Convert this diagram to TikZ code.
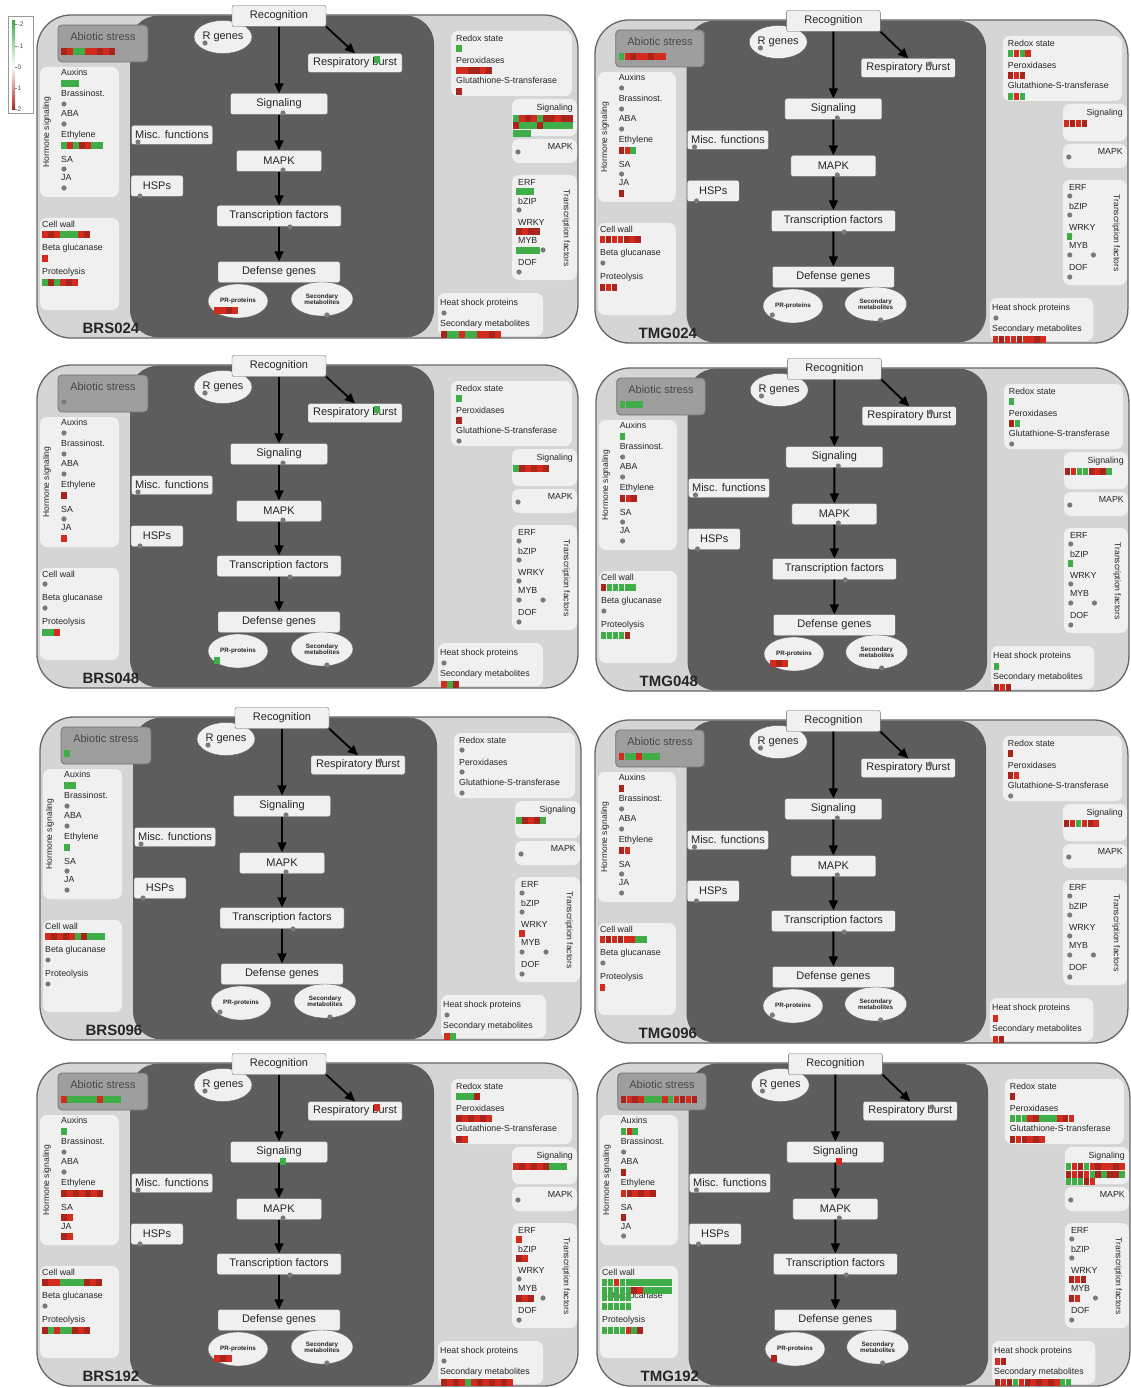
\documentclass[tikz,border=0pt]{standalone}
\usepackage{fontspec}
\setmainfont{Liberation Sans}
\usetikzlibrary{arrows.meta,shapes.geometric}

\definecolor{hmr}{HTML}{D42B1F}
\definecolor{hmd}{HTML}{A8241C}
\definecolor{hmg}{HTML}{3FAE49}
\definecolor{panelgray}{HTML}{D5D5D5}
\definecolor{coregray}{HTML}{5D5D5D}
\definecolor{boxwhite}{HTML}{F0F0F0}
\definecolor{dotgray}{HTML}{7A7A7A}

\newcommand{\fs}[1]{\fontsize{#1}{#1}\selectfont}

\tikzset{
  panelbg/.style={draw=black!60, fill=panelgray, line width=1.3pt, rounded corners=34},
  core/.style={fill=coregray, rounded corners=28},
  sidebox/.style={fill=boxwhite, rounded corners=7},
  abiobox/.style={draw=black!55, fill=black!38, rounded corners=4, line width=0.8pt},
  flowbox/.style={draw=black!60, fill=boxwhite, rounded corners=2, font=\fs{11},
    inner sep=0pt, minimum height=21, text=black!85},
  flowoval/.style={ellipse, draw=black!60, fill=boxwhite, inner sep=0pt, text=black!85},
  itemlbl/.style={anchor=west, font=\fs{8.8}, inner sep=0pt, text=black!85},
  flow/.style={line width=1.8pt, -{Triangle[length=10pt,width=9pt]}},
  tag/.style={font=\bfseries\fs{15}, text=black!85},
}

% one row of heatmap cells, top-left corner at (#1,#2)
\newcommand{\hm}[3]{%
  \foreach \cl [count=\ci from 0] in {#3}
    \fill[fill=hm\cl] ({#1+\ci*6},#2) rectangle +(5.6,7);%
}

% one MapMan panel: origin x, origin y, xscale, tag, heatmaps
\newcommand{\stresspanel}[5]{%
\begin{scope}[shift={(#1,#2)},xscale=#3]
  \draw[panelbg] (0,0) rectangle (541,323);
  \fill[core] (93,0.7) rectangle (397,322.3);
  % side boxes
  \fill[sidebox] (3,52) rectangle (82,182);
  \fill[sidebox] (3,203) rectangle (82,295);
  \fill[sidebox] (414,16) rectangle (535,81);
  \fill[sidebox] (475,84) rectangle (540,121);
  \fill[sidebox] (475,124) rectangle (540,148);
  \fill[sidebox] (475,160) rectangle (540,265);
  \fill[sidebox] (401,278) rectangle (506,321);
  \draw[abiobox] (21,10) rectangle (111,47);
  % empty bins
  \foreach \px/\py in {27/37,27/68,27/89,27/109,27/130,27/154,27/173,8/219,8/243,8/267,
      422/33,422/55,422/76,481/137,482/176,482/195,482/216,482/235,506/235,482/257,
      407/298,407/319}
    \fill[dotgray] (\px,\py) circle (2.6);
  % labels
  \node[font=\fs{11},text=black!72] (#4abio) at (66,22) {Abiotic stress};
  \node[font=\fs{8.5},rotate=90,text=black!85] (#4horm) at (10,117) {Hormone signaling};
  \foreach \ly/\lt [count=\k] in {57/Auxins,78/Brassinost.,98/ABA,120/Ethylene,144/SA,163/JA}
    \node[itemlbl] (#4h\k) at (24,\ly) {\lt};
  \foreach \ly/\lt [count=\k] in {209/Cell wall,233/Beta glucanase,257/Proteolysis}
    \node[itemlbl] (#4c\k) at (5,\ly) {\lt};
  \foreach \ly/\lt [count=\k] in {23/Redox state,45/Peroxidases,65/Glutathione-S-transferase}
    \node[itemlbl] (#4r\k) at (419,\ly) {\lt};
  \node[itemlbl,anchor=east] (#4sigr) at (536,93) {Signaling};
  \node[itemlbl,anchor=east] (#4mapkr) at (536,131) {MAPK};
  \foreach \ly/\lt [count=\k] in {167/ERF,186/bZIP,207/WRKY,225/MYB,247/DOF}
    \node[itemlbl] (#4t\k) at (481,\ly) {\lt};
  \node[font=\fs{8.5},rotate=-90,text=black!85] (#4tfr) at (529,213) {Transcription factors};
  \node[itemlbl] (#4hs) at (403,288) {Heat shock proteins};
  \node[itemlbl] (#4smr) at (403,309) {Secondary metabolites};
  % pathway
  \node[flowoval,minimum width=53,minimum height=33,font=\fs{11}] (#4rg) at (186,22) {R genes};
  \node[flowbox,minimum width=94] (#4rec) at (242,1) {Recognition};
  \node[flowbox,minimum width=94,minimum height=19] (#4rb) at (318,48) {Respiratory burst};
  \node[flowbox,minimum width=97] (#4sig) at (242,89) {Signaling};
  \node[flowbox,minimum width=81,minimum height=19] (#4misc) at (135,120) {Misc. functions};
  \node[flowbox,minimum width=85] (#4mapk) at (242,146) {MAPK};
  \node[flowbox,minimum width=52] (#4hsp) at (120,171) {HSPs};
  \node[flowbox,minimum width=124] (#4tf) at (242,201) {Transcription factors};
  \node[flowbox,minimum width=122] (#4def) at (242,257) {Defense genes};
  \node[flowoval,minimum width=60,minimum height=34,font=\bfseries\fs{6.3}] (#4pr) at (201,286) {PR-proteins};
  \node[flowoval,minimum width=62,minimum height=34,font=\bfseries\fs{6.3},align=center] (#4sm) at (285,284)
    {Secondary\\metabolites};
  \draw[flow] (#4rec) -- (#4sig);
  \draw[flow] (#4sig) -- (#4mapk);
  \draw[flow] (#4mapk) -- (#4tf);
  \draw[flow] (#4tf) -- (#4def);
  \draw[flow] (#4rec.south east) -- (#4rb.north);
  \foreach \px/\py in {168/28,101/127,103/181,246/98,246/155,253/212,340/44,180/295,290/300}
    \fill[dotgray] (\px,\py) circle (2.6);
  \node[tag] (#4tag) at (74,313) {#4};
  #5
\end{scope}}

\begin{document}
\begin{tikzpicture}[x=1pt,y=-1pt]
  \useasboundingbox[fill=white] (0,0) rectangle (1130,1388);
  % colour key
  \node[draw=black!40, fill=white, minimum width=25, minimum height=97, inner sep=0pt] (key) at (20.5,64.5) {};
  \shade[top color=hmg, bottom color=white] (12,21) rectangle (15,66);
  \shade[top color=white, bottom color=hmd] (12,66) rectangle (15,110);
  \foreach \tv/\ty [count=\k] in {-2/24,-1/46,0/67,1/88,2/109}{
    \draw[black!50] (15,\ty) -- (17,\ty);
    \node[font=\fs{6.5},anchor=west,inner sep=0pt,text=black!70] (key\k) at (17.5,\ty) {\tv};
  }

  \stresspanel{37}{15}{1}{BRS024}{%
    \hm{24}{33}{d,r,g,g,r,r,d,r,d}
    \hm{24}{65}{g,g,g}
    \hm{24}{127}{g,r,g,d,r,g,g}
    \hm{5}{216}{r,d,r,g,g,g,r,d}
    \hm{5}{240}{r}
    \hm{5}{264}{g,d,g,r,d,r}
    \hm{177}{292}{r,r,d,r}
    \hm{337}{41}{g}
    \hm{419}{30}{g}
    \hm{419}{52}{r,r,d,d,r,d}
    \hm{419}{73}{d}
    \hm{476}{100}{g,r,d,r,g,d,d,r,d,d}
    \hm{476}{107.5}{d,g,g,g,d,g,g,g,g,g}
    \hm{476}{115}{g,g,g}
    \hm{479}{173}{g,g,g}
    \hm{479}{213}{d,r,d,d}
    \hm{479}{232}{g,g,g,g}
    \hm{404}{316}{d,g,g,r,g,g,r,r,d,r}}

  \stresspanel{595}{20}{0.985}{TMG024}{%
    \hm{24}{33}{g,r,d,r,r,d,r,r}
    \hm{24}{127}{d,r,g}
    \hm{24}{170}{d}
    \hm{5}{216}{r,d,r,r,d,r,d}
    \hm{5}{264}{d,r,d}
    \hm{419}{30}{g,r,g,r}
    \hm{419}{52}{d,r,d}
    \hm{419}{73}{g,r,g}
    \hm{476}{100}{r,d,r,d}
    \hm{479}{213}{g}
    \hm{404}{316}{r,d,r,r,d,r,r,d,r}}

  \stresspanel{37}{365}{1}{BRS048}{%
    \hm{24}{127}{d}
    \hm{24}{170}{r}
    \hm{5}{264}{g,g,r}
    \hm{177}{292}{g}
    \hm{337}{41}{g}
    \hm{419}{30}{g}
    \hm{419}{52}{d}
    \hm{476}{100}{g,d,r,d,r,d}
    \hm{404}{316}{r,g,d}}

  \stresspanel{596}{368}{0.985}{TMG048}{%
    \hm{24}{33}{g,g,g,g}
    \hm{24}{65}{g}
    \hm{24}{127}{d,r,d}
    \hm{5}{216}{d,g,g,g,g,g}
    \hm{5}{264}{g,g,g,g,d}
    \hm{177}{292}{r,d,r}
    \hm{419}{30}{g}
    \hm{419}{52}{d,g}
    \hm{476}{100}{d,r,g,g,d,r,d,g}
    \hm{479}{192}{g}
    \hm{404}{295}{g}
    \hm{404}{316}{d,r,d}}

  \stresspanel{40}{717}{1}{BRS096}{%
    \hm{24}{33}{g}
    \hm{24}{65}{g,g}
    \hm{24}{127}{g}
    \hm{5}{216}{r,d,r,d,r,g,d,g,g,g}
    \hm{476}{100}{g,d,r,d,g}
    \hm{479}{213}{r}
    \hm{404}{316}{r,g}}

  \stresspanel{595}{720}{0.985}{TMG096}{%
    \hm{24}{33}{r,g,g,r,g,g,g}
    \hm{24}{65}{d}
    \hm{24}{127}{d,r}
    \hm{5}{216}{r,d,r,d,r,r,g,g}
    \hm{5}{264}{r}
    \hm{419}{30}{d}
    \hm{419}{52}{d,r}
    \hm{476}{100}{d,r,g,r,d,r}
    \hm{404}{295}{r}
    \hm{404}{316}{r,d}}

  \stresspanel{37}{1063}{1}{BRS192}{%
    \hm{24}{33}{r,g,g,g,g,g,r,g,g,g}
    \hm{24}{65}{g}
    \hm{24}{127}{d,r,d,r,d,r,d}
    \hm{24}{151}{d,r}
    \hm{24}{170}{d,r}
    \hm{5}{216}{d,r,r,g,g,g,g,d,r,d}
    \hm{5}{264}{d,g,r,g,g,d,r,d}
    \hm{177}{292}{r,d,r}
    \hm{337}{41}{r}
    \hm{243}{95}{g}
    \hm{419}{30}{g,g,g,d}
    \hm{419}{52}{d,r,d,r,d,r}
    \hm{419}{73}{d,r}
    \hm{476}{100}{r,d,r,d,r,d,g,g,g}
    \hm{479}{173}{r}
    \hm{479}{192}{d,r}
    \hm{479}{232}{d,r,d}
    \hm{404}{316}{d,r,d,r,g,r,d,r,d,r,d,r}}

  \stresspanel{597}{1063}{0.985}{TMG192}{%
    \hm{24}{33}{d,r,d,r,g,g,g,r,g,r,d,r,d}
    \hm{24}{65}{g,r,g}
    \hm{24}{106}{d}
    \hm{24}{127}{r,d,r,d,r,d}
    \hm{24}{151}{d}
    \hm{5}{216}{g,g,r,g,g,g,g,g,g,g,g,g}
    \hm{5}{223.5}{g,g,g,g,g,d,r,g,g,g,g,g}
    \hm{5}{231}{g,g,g,g,g}
    \hm{5}{240}{g,g,g,g,g}
    \hm{5}{264}{g,g,g,g,r,g,d}
    \hm{177}{292}{d}
    \hm{243}{95}{r}
    \hm{419}{30}{d}
    \hm{419}{52}{g,g,g,r,d,g,g,g,r,d,r}
    \hm{419}{73}{d,r,d,r,d,r}
    \hm{476}{100}{g,r,d,g,r,d,r,r,d,r}
    \hm{476}{107.5}{d,r,d,r,g,d,g,d,d,g}
    \hm{476}{115}{g,g,g,d,r}
    \hm{479}{213}{d,r,d}
    \hm{479}{232}{d,r}
    \hm{404}{295}{r,d}
    \hm{404}{316}{d,r,d,g,r,d,r,d,r,d,r,g,g}}
\end{tikzpicture}
\end{document}
